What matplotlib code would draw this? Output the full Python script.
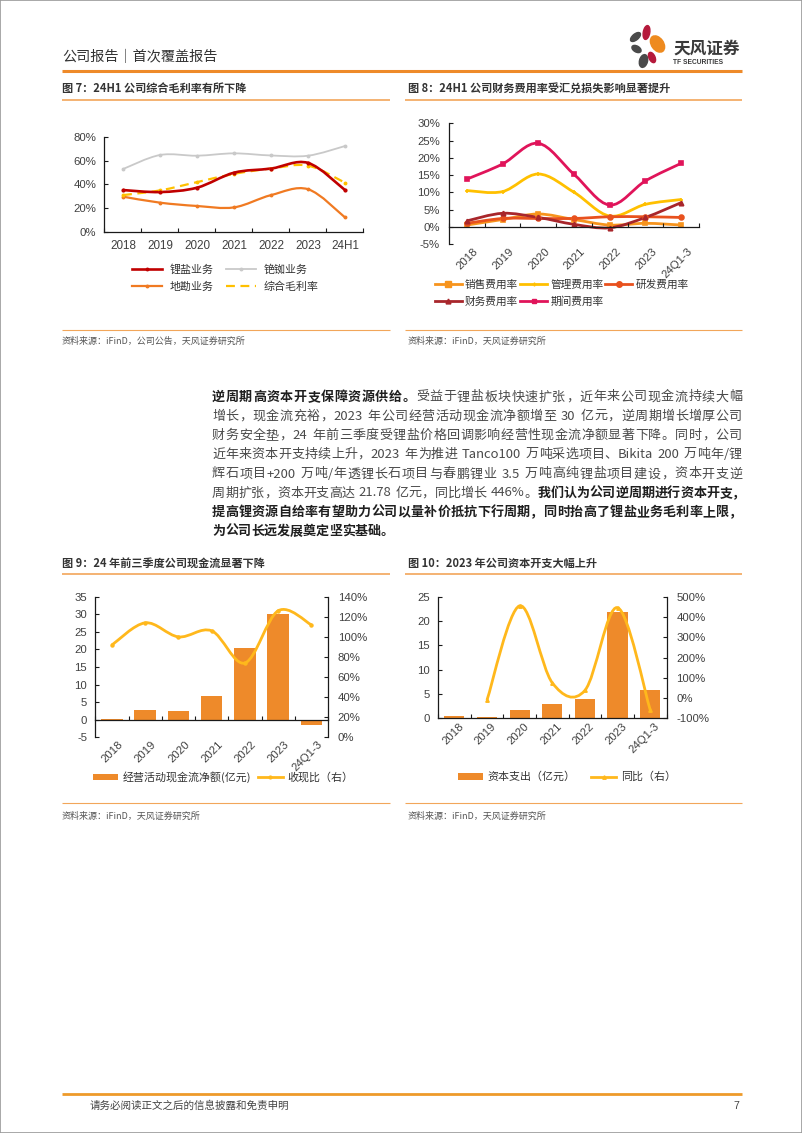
import re
import numpy as np
import matplotlib
matplotlib.use("Agg")
import matplotlib.pyplot as plt
from matplotlib.path import Path
from matplotlib.patches import PathPatch, Ellipse, Rectangle, Patch
from matplotlib.lines import Line2D
import matplotlib.transforms as mtransforms

plt.rcParams['font.family'] = ['Liberation Sans', 'Noto Sans CJK SC', 'DejaVu Sans']
CJK = ['Noto Sans CJK SC', 'DejaVu Sans']
NUM = ['Liberation Sans', 'Noto Sans CJK SC']

# ---------------- data ----------------
years7 = ['2018', '2019', '2020', '2021', '2022', '2023', '24H1']
lithium_gm = [35.3, 33.6, 37.3, 50.0, 53.5, 58.3, 35.3]
cesium_gm = [53.1, 65.0, 64.4, 66.4, 64.6, 64.4, 72.6]
survey_gm = [29.7, 24.6, 21.8, 20.6, 31.0, 36.0, 12.1]
total_gm = [31.0, 35.0, 42.0, 49.0, 53.5, 56.0, 41.5]

years8 = ['2018', '2019', '2020', '2021', '2022', '2023', '24Q1-3']
sales_rate = [0.5, 2.1, 3.7, 2.1, 0.5, 1.0, 0.5]
admin_rate = [10.5, 10.2, 15.3, 10.0, 3.1, 6.5, 7.9]
rd_rate = [1.0, 2.4, 2.4, 2.4, 2.9, 2.9, 2.7]
fin_rate = [1.7, 3.9, 2.7, 0.7, -0.3, 2.7, 7.0]
period_rate = [13.8, 18.2, 24.2, 15.2, 6.3, 13.3, 18.4]

years9 = ['2018', '2019', '2020', '2021', '2022', '2023', '24Q1-3']
op_cf = [0.1, 2.7, 2.4, 6.7, 20.5, 30.2, -1.4]
cash_ratio = [92, 114, 100, 106, 74, 126, 112]

years10 = ['2018', '2019', '2020', '2021', '2022', '2023', '24Q1-3']
capex = [0.45, 0.3, 1.7, 2.9, 4.0, 21.78, 5.9]
capex_yoy = [np.nan, -10, 455, 75, 38, 446, -60]

# ---------------- figure helpers ----------------
W, H = 802, 1133
fig = plt.figure(figsize=(W / 100, H / 100), dpi=100)
fig.patch.set_facecolor('white')


def ax_at(x0, y0, x1, y1, **kw):
    return fig.add_axes([x0 / W, 1 - y1 / H, (x1 - x0) / W, (y1 - y0) / H], **kw)


def ftext(x, y, s, **kw):
    kw.setdefault('va', 'center')
    return fig.text(x / W, 1 - y / H, s, **kw)


def fline(x0, x1, y, color, lw):
    fig.add_artist(Line2D([x0 / W, x1 / W], [1 - y / H, 1 - y / H], color=color, lw=lw,
                          transform=fig.transFigure, solid_capstyle='butt'))


def smooth(ax, x, y, **kw):
    x = np.asarray(x, float)
    y = np.asarray(y, float)
    m = ~np.isnan(y)
    x, y = x[m], y[m]
    n = len(x)
    verts = [(x[0], y[0])]
    codes = [Path.MOVETO]
    for i in range(n - 1):
        p0 = (x[i - 1], y[i - 1]) if i > 0 else (x[i], y[i])
        p1 = (x[i], y[i])
        p2 = (x[i + 1], y[i + 1])
        p3 = (x[i + 2], y[i + 2]) if i + 2 < n else p2
        c1 = (p1[0] + (p2[0] - p0[0]) / 6, p1[1] + (p2[1] - p0[1]) / 6)
        c2 = (p2[0] - (p3[0] - p1[0]) / 6, p2[1] - (p3[1] - p1[1]) / 6)
        verts += [c1, c2, p2]
        codes += [Path.CURVE4] * 3
    ax.add_patch(PathPatch(Path(verts, codes), facecolor='none', **kw))


ORANGE = '#EE8A2A'
TICKC = '#404040'
AXC = '#1a1a1a'


def style_axes(ax, ncat):
    for s in ['top', 'right']:
        ax.spines[s].set_visible(False)
    for s in ['left', 'bottom']:
        ax.spines[s].set_color(AXC)
        ax.spines[s].set_linewidth(0.9)
    ax.set_xlim(-0.5, ncat - 0.5)
    ax.set_xticks(np.arange(-0.5, ncat, 1.0))
    ax.set_xticklabels([])
    ax.tick_params(axis='x', direction='in', length=3, width=0.8, color=AXC)
    ax.tick_params(axis='y', direction='in', length=3, width=0.8, color=AXC,
                   labelsize=8.2, labelcolor=TICKC)
    ax.patch.set_alpha(0)


def rot_labels(ax, labels, ypix_offset=3, xpix_offset=4):
    trans = mtransforms.blended_transform_factory(ax.transData, ax.transAxes)
    off = mtransforms.ScaledTranslation(xpix_offset / 100, -ypix_offset / 100, fig.dpi_scale_trans)
    for i, lab in enumerate(labels):
        ax.text(i, 0, lab, transform=trans + off, rotation=45, ha='right', va='top',
                rotation_mode='anchor', fontsize=8.2, color=TICKC, family=NUM)


# ---------------- page frame / header ----------------
fig.add_artist(Rectangle((0, 0), 1, 1, transform=fig.transFigure, fill=False,
                         edgecolor='#9a9a9a', lw=1.2))
ftext(62, 57, '公司报告｜首次覆盖报告', fontsize=10.2, color='#333333', family=CJK, weight='medium')
fline(62, 742, 71, '#EE8A2A', 2.2)

# logo
axl = ax_at(624, 22, 672, 70)
axl.set_xlim(624, 672)
axl.set_ylim(70, 22)
axl.axis('off')
for (cx, cy, w, h, ang, col) in [
    (635.5, 37, 6, 12, 50, '#4a4a4a'),
    (646.5, 32.5, 6.5, 14, 10, '#B5193B'),
    (657.5, 44, 12, 18, -35, '#EE8A1E'),
    (636.5, 49, 6, 10, -60, '#4a4a4a'),
    (643.5, 61, 8, 13, 15, '#4a4a4a'),
    (652, 57.5, 6, 11, -25, '#B5193B'),
]:
    axl.add_patch(Ellipse((cx, cy), w, h, angle=ang, color=col))
ftext(673, 49, '天风证券', fontsize=12, weight='bold', color='#3a3a3a', family=CJK)
ftext(673, 63, 'TF SECURITIES', fontsize=4.8, weight='bold', color='#3a3a3a', family=NUM)

# figure titles
ftext(62, 88, '图 7：24H1 公司综合毛利率有所下降', fontsize=8, weight='bold', color='#333333', family=CJK)
ftext(408, 88, '图 8：24H1 公司财务费用率受汇兑损失影响显著提升', fontsize=8, weight='bold', color='#333333', family=CJK)
fline(62, 390, 100, '#F2A65A', 1.2)
fline(405, 742, 100, '#F2A65A', 1.2)
ftext(62, 563, '图 9：24 年前三季度公司现金流显著下降', fontsize=8, weight='bold', color='#333333', family=CJK)
ftext(408, 563, '图 10：2023 年公司资本开支大幅上升', fontsize=8, weight='bold', color='#333333', family=CJK)
fline(62, 390, 574, '#F2A65A', 1.2)
fline(405, 742, 574, '#F2A65A', 1.2)

# source lines
for yl, yt in [(330, 341), (803, 816)]:
    fline(62, 390, yl, '#F2A65A', 0.8)
    fline(405, 742, yl, '#F2A65A', 0.8)
ftext(62, 341, '资料来源：iFinD，公司公告，天风证券研究所', fontsize=6.5, color='#555555', family=CJK)
ftext(408, 341, '资料来源：iFinD，天风证券研究所', fontsize=6.5, color='#555555', family=CJK)
ftext(62, 816, '资料来源：iFinD，天风证券研究所', fontsize=6.5, color='#555555', family=CJK)
ftext(408, 816, '资料来源：iFinD，天风证券研究所', fontsize=6.5, color='#555555', family=CJK)

# ---------------- chart 7 ----------------
ax7 = ax_at(104.5, 137.3, 363.5, 231.7)
x7 = np.arange(len(years7))
style_axes(ax7, len(years7))
ax7.set_ylim(0, 80)
ax7.set_yticks([0, 20, 40, 60, 80])
ax7.set_yticklabels([f'{v}%' for v in [0, 20, 40, 60, 80]], family=NUM)
ax7.tick_params(axis='y', pad=6)
ax7.set_xticks(x7, minor=True)
ax7.set_xticklabels(years7, minor=True, fontsize=8.4, color=TICKC, family=NUM)
ax7.tick_params(axis='x', which='minor', length=0, pad=6)
c_li, c_cs, c_sv, c_tot = '#C00000', '#C9C9C9', '#F07A22', '#FFC000'
smooth(ax7, x7, cesium_gm, edgecolor=c_cs, lw=1.3)
smooth(ax7, x7, survey_gm, edgecolor=c_sv, lw=1.6)
smooth(ax7, x7, total_gm, edgecolor=c_tot, lw=1.6, linestyle=(0, (4, 2.5)))
smooth(ax7, x7, lithium_gm, edgecolor=c_li, lw=1.9)
ax7.plot(x7, cesium_gm, ls='none', marker='o', ms=1.8, color=c_cs)
ax7.plot(x7, survey_gm, ls='none', marker='o', ms=1.8, color=c_sv)
ax7.plot(x7, total_gm, ls='none', marker='o', ms=1.8, color=c_tot)
ax7.plot(x7, lithium_gm, ls='none', marker='o', ms=2.0, color=c_li)
h7 = [Line2D([], [], color=c_li, lw=1.9, marker='o', ms=1.8),
      Line2D([], [], color=c_sv, lw=1.6, marker='o', ms=1.8),
      Line2D([], [], color=c_cs, lw=1.3, marker='o', ms=1.8),
      Line2D([], [], color=c_tot, lw=1.6, linestyle=(0, (4, 2.5)))]
l7 = ['锂盐业务', '地勘业务', '铯铷业务', '综合毛利率']
ax7.legend(h7, l7, ncol=2, loc='center left', bbox_to_anchor=(132 / W, 1 - 278 / H),
           bbox_transform=fig.transFigure, frameon=False, prop={'family': CJK, 'size': 7.9},
           handlelength=2.7, handletextpad=0.7, columnspacing=1.2, labelspacing=0.65,
           borderpad=0, borderaxespad=0, labelcolor='#333333')

# ---------------- chart 8 ----------------
ax8 = ax_at(449, 123.3, 699, 244)
x8 = np.arange(len(years8))
style_axes(ax8, len(years8))
ax8.set_ylim(-5, 30)
yt8 = [-5, 0, 5, 10, 15, 20, 25, 30]
ax8.set_yticks(yt8)
ax8.set_yticklabels([f'{v}%' for v in yt8], family=NUM)
ax8.tick_params(axis='y', pad=6.5)
ax8.spines['bottom'].set_position(('data', 0))
rot_labels(ax8, years8, ypix_offset=2, xpix_offset=6)
c_sa, c_ad, c_rd, c_fi, c_pe = '#F7941D', '#FFC000', '#E8511E', '#A8262B', '#E0145A'
series8 = [(sales_rate, c_sa, 's', 3.5), (admin_rate, c_ad, '+', 3.5),
           (rd_rate, c_rd, 'o', 3.5), (fin_rate, c_fi, '^', 3.2), (period_rate, c_pe, 's', 3.2)]
for vals, col, mk, ms in series8:
    smooth(ax8, x8, vals, edgecolor=col, lw=2.0)
    ax8.plot(x8, vals, ls='none', marker=mk, ms=ms, color=col, mew=1.2)
h8 = [Line2D([], [], color=c_sa, lw=2, marker='s', ms=4),
      Line2D([], [], color=c_fi, lw=2, marker='^', ms=3.5),
      Line2D([], [], color=c_ad, lw=2, marker='+', ms=3.5),
      Line2D([], [], color=c_pe, lw=2, marker='s', ms=3),
      Line2D([], [], color=c_rd, lw=2, marker='o', ms=4)]
l8 = ['销售费用率', '财务费用率', '管理费用率', '期间费用率', '研发费用率']
ax8.legend(h8, l8, ncol=3, loc='center left', bbox_to_anchor=(435 / W, 1 - 293.5 / H),
           bbox_transform=fig.transFigure, frameon=False, prop={'family': CJK, 'size': 7.7},
           handlelength=2.5, handletextpad=0.3, columnspacing=0.2, labelspacing=0.6,
           borderpad=0, borderaxespad=0, labelcolor='#333333')

# ---------------- chart 9 ----------------
ax9 = ax_at(95.4, 596.7, 328, 737.3)
x9 = np.arange(len(years9))
style_axes(ax9, len(years9))
ax9.set_ylim(-5, 35)
yt9 = list(range(-5, 36, 5))
ax9.set_yticks(yt9)
ax9.set_yticklabels([str(v) for v in yt9], family=NUM)
ax9.tick_params(axis='y', pad=6)
ax9.spines['bottom'].set_position(('data', 0))
ax9.bar(x9, op_cf, width=0.65, color=ORANGE, zorder=1)
ax9.set_xticks(np.arange(-0.5, len(years9), 1.0))
rot_labels(ax9, years9, ypix_offset=2, xpix_offset=6)
ax9b = ax9.twinx()
ax9b.set_position(ax9.get_position())
ax9b.set_ylim(0, 1.4)
yr9 = [0, 0.2, 0.4, 0.6, 0.8, 1.0, 1.2, 1.4]
ax9b.set_yticks(yr9)
ax9b.set_yticklabels([f'{int(round(v * 100))}%' for v in yr9], family=NUM)
for s in ['top', 'left', 'bottom']:
    ax9b.spines[s].set_visible(False)
ax9b.spines['right'].set_color(AXC)
ax9b.spines['right'].set_linewidth(0.9)
ax9b.tick_params(axis='y', direction='in', length=3, width=0.8, color=AXC, labelsize=8.2,
                 labelcolor=TICKC, pad=7)
cr9 = [v / 100 for v in cash_ratio]
c_cr = '#FFB81C'
smooth(ax9b, x9, cr9, edgecolor=c_cr, lw=2.0)
ax9b.plot(x9, cr9, ls='none', marker='o', ms=2.2, color=c_cr)
h9 = [Patch(facecolor=ORANGE), Line2D([], [], color=c_cr, lw=2, marker='o', ms=2)]
ax9b.legend(h9, ['经营活动现金流净额(亿元)', '收现比（右）'], ncol=2, loc='center left',
            bbox_to_anchor=(93 / W, 1 - 777 / H), bbox_transform=fig.transFigure, frameon=False,
            prop={'family': CJK, 'size': 7.9}, handlelength=2.3, handleheight=0.5,
            handletextpad=0.4, columnspacing=0.6, borderpad=0, borderaxespad=0,
            labelcolor='#333333')

# ---------------- chart 10 ----------------
ax10 = ax_at(438, 596.7, 666.6, 718.3)
x10 = np.arange(len(years10))
style_axes(ax10, len(years10))
ax10.set_ylim(0, 25)
yt10 = [0, 5, 10, 15, 20, 25]
ax10.set_yticks(yt10)
ax10.set_yticklabels([str(v) for v in yt10], family=NUM)
ax10.tick_params(axis='y', pad=6)
ax10.bar(x10, capex, width=0.62, color=ORANGE, zorder=1)
ax10.set_xticks(np.arange(-0.5, len(years10), 1.0))
rot_labels(ax10, years10, ypix_offset=3, xpix_offset=4)
ax10b = ax10.twinx()
ax10b.set_position(ax10.get_position())
ax10b.set_ylim(-1, 5)
yr10 = [-1, 0, 1, 2, 3, 4, 5]
ax10b.set_yticks(yr10)
ax10b.set_yticklabels([f'{v * 100}%' for v in yr10], family=NUM)
for s in ['top', 'left', 'bottom']:
    ax10b.spines[s].set_visible(False)
ax10b.spines['right'].set_color(AXC)
ax10b.spines['right'].set_linewidth(0.9)
ax10b.tick_params(axis='y', direction='in', length=3, width=0.8, color=AXC, labelsize=8.2,
                  labelcolor=TICKC, pad=7)
yoy10 = [v / 100 for v in capex_yoy]
smooth(ax10b, x10, yoy10, edgecolor=c_cr, lw=2.0)
ax10b.plot(x10, yoy10, ls='none', marker='^', ms=2.5, color=c_cr)
h10 = [Patch(facecolor=ORANGE), Line2D([], [], color=c_cr, lw=2, marker='^', ms=2.5)]
ax10b.legend(h10, ['资本支出（亿元）', '同比（右）'], ncol=2, loc='center left',
             bbox_to_anchor=(458 / W, 1 - 777 / H), bbox_transform=fig.transFigure, frameon=False,
             prop={'family': CJK, 'size': 7.9}, handlelength=2.3, handleheight=0.5,
             handletextpad=0.4, columnspacing=1.4, borderpad=0, borderaxespad=0,
             labelcolor='#333333')

# ---------------- paragraph (justified) ----------------
para = [
    [('逆周期高资本开支保障资源供给。', True), ('受益于锂盐板块快速扩张，近年来公司现金流持续大幅', False)],
    [('增长，现金流充裕，2023 年公司经营活动现金流净额增至 30 亿元，逆周期增长增厚公司', False)],
    [('财务安全垫，24 年前三季度受锂盐价格回调影响经营性现金流净额显著下降。同时，公司', False)],
    [('近年来资本开支持续上升，2023 年为推进 Tanco100 万吨采选项目、Bikita 200 万吨年/锂', False)],
    [('辉石项目+200 万吨/年透锂长石项目与春鹏锂业 3.5 万吨高纯锂盐项目建设，资本开支逆', False)],
    [('周期扩张，资本开支高达 21.78 亿元，同比增长 446%。', False), ('我们认为公司逆周期进行资本开支，', True)],
    [('提高锂资源自给率有望助力公司以量补价抵抗下行周期，同时抬高了锂盐业务毛利率上限，', True)],
    [('为公司长远发展奠定坚实基础。', True)],
]
ys = [397, 416, 435.5, 454.5, 474, 493, 512, 531]
PX0, PX1 = 212, 742
FS = 9.4
renderer = fig.canvas.get_renderer()
for li, (y, segs) in enumerate(zip(ys, para)):
    toks = []
    for s, b in segs:
        for tk in re.findall(r'[A-Za-z0-9.%+/\-]+| |.', s):
            toks.append((tk, b))
    items = []
    for tk, b in toks:
        if tk == ' ':
            items.append((None, FS * 1.389 * 0.3))
            continue
        t = ftext(0, y, tk, fontsize=FS, family=CJK, weight='bold' if b else 'normal',
                  color='#1f1f1f' if b else '#4a4a4a')
        items.append((t, t.get_window_extent(renderer=renderer).width))
    total = sum(w for _, w in items)
    last = li == len(para) - 1
    extra = 0 if last else max(0.0, (PX1 - PX0 - total) / (len(items) - 1))
    x = PX0
    for t, w in items:
        if t is not None:
            t.set_position((x / W, 1 - y / H))
        x += w + extra

# ---------------- footer ----------------
fline(62, 742, 1094, '#EE9A2A', 2.0)
ftext(90, 1106, '请务必阅读正文之后的信息披露和免责申明', fontsize=7.6, color='#444444', family=CJK)
ftext(733, 1106, '7', fontsize=7.6, color='#444444', family=NUM)

fig.savefig('out.png', dpi=100)
